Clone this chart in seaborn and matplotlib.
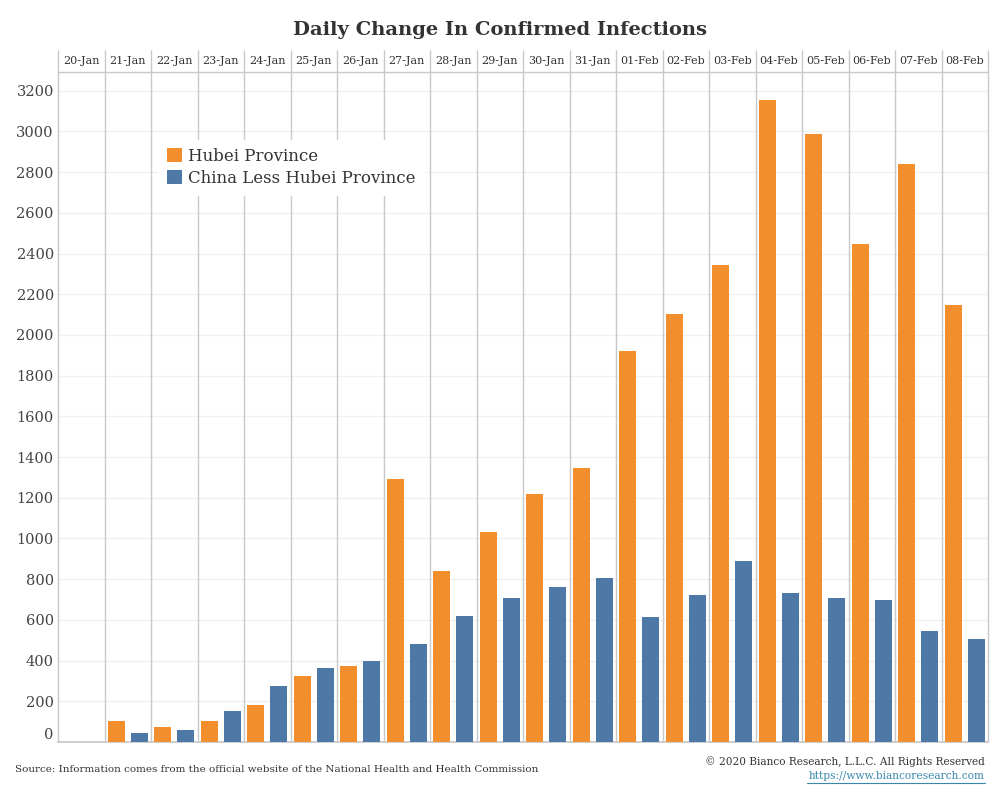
import matplotlib
matplotlib.use("Agg")
import matplotlib.pyplot as plt
import seaborn as sns
import pandas as pd

# data
dates = ["20-Jan", "21-Jan", "22-Jan", "23-Jan", "24-Jan", "25-Jan", "26-Jan",
         "27-Jan", "28-Jan", "29-Jan", "30-Jan", "31-Jan", "01-Feb", "02-Feb",
         "03-Feb", "04-Feb", "05-Feb", "06-Feb", "07-Feb", "08-Feb"]
hubei = [0, 105, 72, 105, 180, 323, 371, 1291, 840, 1032, 1220, 1347,
         1921, 2103, 2345, 3156, 2987, 2447, 2841, 2147]
china_less_hubei = [0, 44, 60, 152, 275, 364, 398, 481, 618, 708, 762, 806,
                    612, 721, 889, 731, 706, 696, 543, 504]
series_names = ["Hubei Province", "China Less Hubei Province"]
y_ticks = list(range(0, 3201, 200))

df = pd.DataFrame({
    "date": dates * 2,
    "series": [series_names[0]] * len(dates) + [series_names[1]] * len(dates),
    "value": hubei + china_less_hubei,
})

sns.set_theme(style="white")
plt.rcParams["font.family"] = ["DejaVu Serif"]

text_col = "#333333"
line_col = "#c8c8c8"

fig = plt.figure(figsize=(10, 8), dpi=100)
ax = fig.add_axes([0.058, 0.0725, 0.93, 0.8375])

sns.barplot(data=df, x="date", y="value", hue="series", order=dates,
            hue_order=series_names, palette=["#F28E2B", "#4E79A7"],
            saturation=1, width=1.0, gap=0.26, linewidth=0, errorbar=None,
            ax=ax, zorder=3)

ax.set_xlim(-0.5, len(dates) - 0.5)
ax.set_ylim(0, 3292)
ax.set_yticks(y_ticks)
ax.set_yticklabels([str(v) for v in y_ticks])
ax.set_xlabel("")
ax.set_ylabel("")

# light horizontal grid
for v in y_ticks:
    ax.axhline(v, color="#f0f0f0", lw=1, zorder=1)

# column separators, running up through the date header
ax.vlines([i - 0.5 for i in range(len(dates) + 1)], 0, 1 + 22 / 670,
          transform=ax.get_xaxis_transform(), colors=line_col, lw=1,
          clip_on=False, zorder=2)

for side in ["left", "right"]:
    ax.spines[side].set_visible(False)
ax.spines["top"].set_color(line_col)
ax.spines["top"].set_linewidth(1)
ax.spines["bottom"].set_color(line_col)

ax.xaxis.tick_top()
ax.tick_params(axis="x", length=0, pad=4, labelsize=8, labelcolor=text_col)
ax.tick_params(axis="y", length=0, pad=3, labelsize=10.5, labelcolor="#444444")
ax.get_yticklabels()[0].set_verticalalignment("bottom")

leg = ax.legend(loc="upper left", bbox_to_anchor=(0.150, 0.836),
                bbox_transform=fig.transFigure, frameon=True, fancybox=False,
                edgecolor="white", facecolor="white", framealpha=1,
                fontsize=12, handlelength=0.9, handleheight=0.9,
                handletextpad=0.4, labelspacing=0.3, borderpad=0.5)
for t in leg.get_texts():
    t.set_color(text_col)

fig.text(0.5, 0.962, "Daily Change In Confirmed Infections", ha="center",
         va="center", fontsize=14, fontweight="bold", color=text_col)
fig.text(0.015, 0.038, "Source: Information comes from the official website of "
         "the National Health and Health Commission", ha="left", va="center",
         fontsize=7.5, color=text_col)
fig.text(0.985, 0.048, "\u00a9 2020 Bianco Research, L.L.C. All Rights Reserved",
         ha="right", va="center", fontsize=7.6, color=text_col)
fig.text(0.985, 0.030, "https://www.biancoresearch.com", ha="right",
         va="center", fontsize=7.7, color="#3a87ad",
         url="https://www.biancoresearch.com")
# underline for the link
fig.add_artist(plt.Line2D([0.807, 0.985], [0.021, 0.021], color="#3a87ad",
                          lw=0.8, transform=fig.transFigure))

fig.savefig("out.png", dpi=100, facecolor="white")
